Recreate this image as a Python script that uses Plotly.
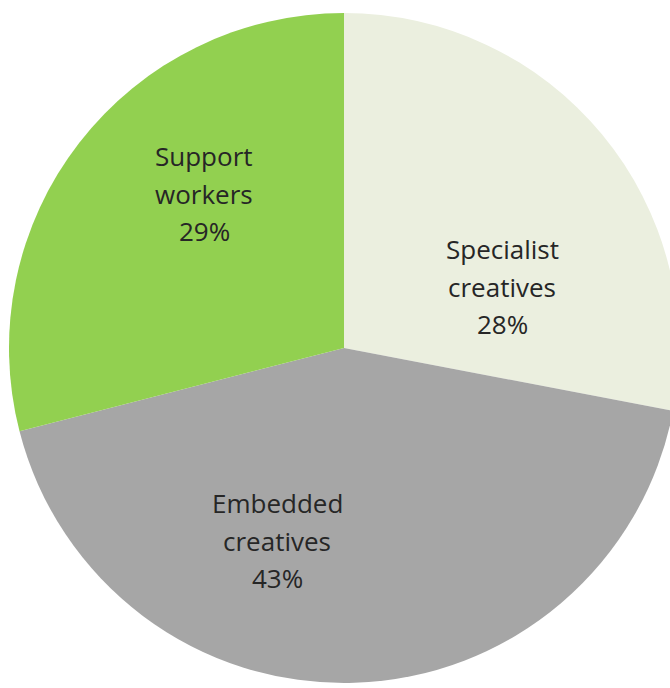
import plotly.graph_objects as go

categories = ["Specialist creatives", "Embedded creatives", "Support workers"]
values = [28, 43, 29]
colors = ["#EBEFDF", "#A6A6A6", "#92D050"]

# label layout (pixel centre x, first baseline y) for each slice's text block
label_pos = [(502, 258), (277, 512), (204, 165)]
line_gap = 37.5
font_size = 26

W, H = 688, 688
cx, cy, r = 344, 348, 335

fig = go.Figure(go.Pie(
    labels=categories,
    values=values,
    sort=False,
    direction="clockwise",
    rotation=0,
    marker=dict(colors=colors, line=dict(width=0)),
    textinfo="none",
    hoverinfo="label+percent",
    domain=dict(x=[0, 1], y=[(H - (cy + r)) / H, (H - (cy - r)) / H]),
    showlegend=False,
))

total = sum(values)
annotations = []
for cat, v, (px, py) in zip(categories, values, label_pos):
    lines = cat.split(" ") + [f"{round(v / total * 100)}%"]
    for i, line in enumerate(lines):
        base = py + i * line_gap
        annotations.append(dict(
            x=px / W, y=1 - (base - 9) / H, xref="paper", yref="paper",
            text=line, showarrow=False, xanchor="center", yanchor="middle",
            font=dict(family="Open Sans", size=font_size, color="#262626"),
        ))

fig.update_layout(
    width=W, height=H,
    margin=dict(l=0, r=0, t=0, b=0),
    paper_bgcolor="white",
    plot_bgcolor="white",
    annotations=annotations,
)

fig.write_html(
    "out.html",
    post_script="document.documentElement.style.overflow='hidden';document.body.style.overflow='hidden';document.body.style.margin='0';",
)
